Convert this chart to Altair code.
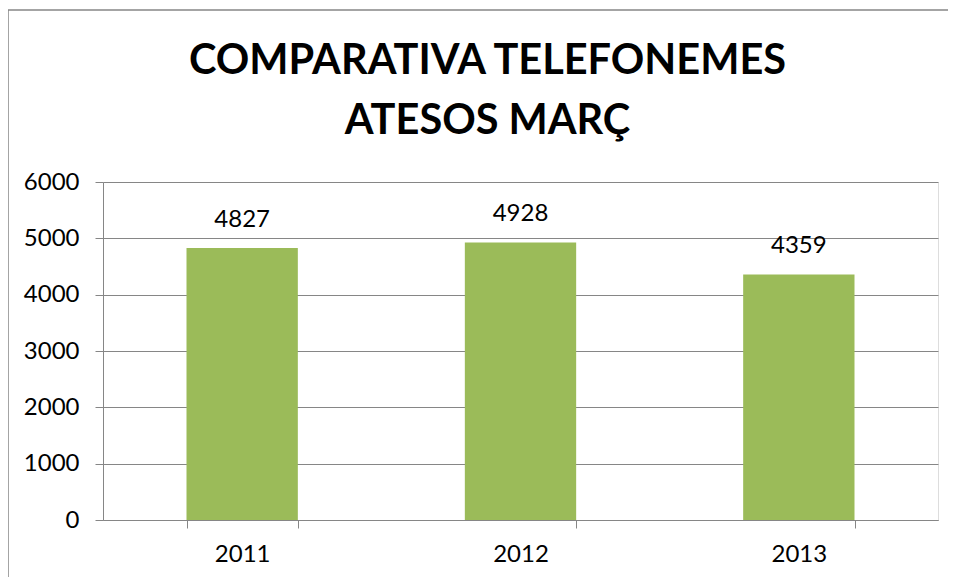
import altair as alt
import pandas as pd

years = ["2011", "2012", "2013"]
calls = [4827, 4928, 4359]
y_ticks = [0, 1000, 2000, 3000, 4000, 5000, 6000]
title_lines = ["COMPARATIVA TELEFONEMES", "ATESOS MARÇ"]

df = pd.DataFrame({"year": years, "calls": calls})

FONT = "Lato"
GREY = "#868686"

x_enc = alt.X(
    "year:N",
    sort=years,
    title=None,
    scale=alt.Scale(paddingInner=0.6, paddingOuter=0.3),
    axis=alt.Axis(
        tickBand="extent",
        domainColor=GREY,
        tickColor=GREY,
        tickSize=8,
        labelAngle=0,
        labelFont=FONT,
        labelFontSize=24,
        labelColor="black",
        labelPadding=14,
        grid=False,
    ),
)
y_enc = alt.Y(
    "calls:Q",
    title=None,
    scale=alt.Scale(domain=[0, 6000], nice=False),
    axis=alt.Axis(
        values=y_ticks,
        format="d",
        domainColor=GREY,
        tickColor=GREY,
        tickSize=8,
        gridColor=GREY,
        labelFont=FONT,
        labelFontSize=24,
        labelColor="black",
        labelPadding=16,
    ),
)

base = alt.Chart(df)
bars = base.mark_bar(color="#9BBB59").encode(x=x_enc, y=y_enc)
labels = base.mark_text(
    font=FONT, fontSize=24, color="black", baseline="alphabetic", dy=-21
).encode(x=x_enc, y=y_enc, text=alt.Text("calls:Q", format="d"))

border = alt.Chart(pd.DataFrame({"a": [0]})).mark_rect(
    filled=False, stroke=GREY, strokeWidth=1.5
).encode(
    x=alt.value(-95), x2=alt.value(900), y=alt.value(-172), y2=alt.value(500)
)

chart = (
    alt.layer(border, bars, labels)
    .properties(
        width=835,
        height=338,
        padding={"left": 95, "top": 174, "right": 10, "bottom": 57},
        autosize=alt.AutoSizeParams(type="none"),
        title=alt.TitleParams(
            text=title_lines,
            font=FONT,
            fontSize=41.5,
            fontWeight="bold",
            color="black",
            lineHeight=60,
            anchor="middle",
            dx=-33,
            offset=-133,
        ),
    )
    .configure_view(stroke=None)
    .configure(background="white")
)

chart.save("out.html", embed_options={"renderer": "svg", "actions": False})
